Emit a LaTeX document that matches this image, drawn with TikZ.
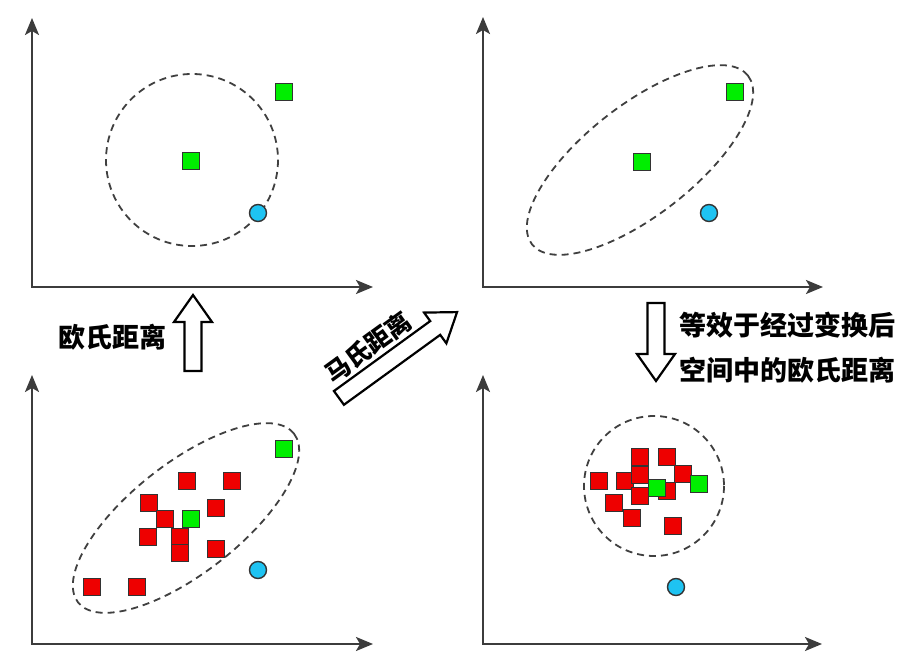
\documentclass[tikz,border=0pt]{standalone}
\usepackage{fontspec}
\newfontfamily\cjk{Noto Sans CJK SC}
\usetikzlibrary{arrows.meta}
\definecolor{cgreen}{HTML}{00EE00}
\definecolor{cred}{HTML}{EE0000}
\definecolor{cblue}{HTML}{1EC3F2}
\definecolor{cedge}{HTML}{333333}
\definecolor{caxis}{HTML}{3C3C3C}
\definecolor{cdash}{HTML}{404040}

\begin{document}
\begin{tikzpicture}[x=1pt, y=-1pt]
    \useasboundingbox[fill=white] (0,0) rectangle (911,652);
    \begin{scope}[
        axis/.style={{Stealth[length=17pt, width=14pt, inset=4pt]}-{Stealth[length=17pt, width=14pt, inset=4pt]}, line width=2pt, draw=caxis},
        bound/.style={dashed, dash pattern=on 7pt off 5pt, line width=1.8pt, draw=cdash},
        gsq/.style={rectangle, draw=cedge, line width=1.4pt, fill=cgreen, minimum size=17pt, inner sep=0pt},
        rsq/.style={rectangle, draw=cedge, line width=1.4pt, fill=cred, minimum size=17pt, inner sep=0pt},
        bdot/.style={circle, draw=cedge, line width=1.4pt, fill=cblue, minimum size=17pt, inner sep=0pt},
        lbl/.style={font=\cjk\bfseries\fontsize{27}{32}\selectfont, inner sep=0pt},
        pics/barrow/.style={code={
            \draw[line width=2.2pt, draw=black, fill=white, line join=miter]
                ({-#1/2},-8.5) -- ({#1/2-27},-8.5) -- ({#1/2-27},-19) -- ({#1/2},0)
                -- ({#1/2-27},19) -- ({#1/2-27},8.5) -- ({-#1/2},8.5) -- cycle;}}
    ]
        % ================= top left: Euclidean =================
        \draw[axis] (32,18) -- (32,287) -- (373,287);
        \draw[bound] (192,160) circle [radius=86];
        \node[gsq] (tl_c) at (191,161) {};
        \node[gsq] (tl_g) at (284,92) {};
        \node[bdot] (tl_b) at (258,213) {};

        % ================= top right: Mahalanobis =================
        \draw[axis] (483,17) -- (483,287) -- (823,287);
        \draw[bound, rotate around={38:(640,160)}] (640,160) ellipse [x radius=137, y radius=55];
        \node[gsq] (tr_c) at (642,162) {};
        \node[gsq] (tr_g) at (735,92) {};
        \node[bdot] (tr_b) at (709,213) {};

        % ================= bottom left: samples =================
        \draw[axis] (32,375) -- (32,644) -- (373,644);
        \draw[bound, rotate around={38:(186,518)}] (186,518) ellipse [x radius=137, y radius=55];
        \node[rsq] (bl_r1) at (187,481) {};
        \node[rsq] (bl_r2) at (232,481) {};
        \node[rsq] (bl_r3) at (149,503) {};
        \node[rsq] (bl_r4) at (216,508) {};
        \node[rsq] (bl_r5) at (165,519) {};
        \node[rsq] (bl_r6) at (148,537) {};
        \node[rsq] (bl_r7) at (180,537) {};
        \node[rsq] (bl_r8) at (180,553) {};
        \node[rsq] (bl_r9) at (216,549) {};
        \node[rsq] (bl_r10) at (92,587) {};
        \node[rsq] (bl_r11) at (137,587) {};
        \node[gsq] (bl_c) at (191,519) {};
        \node[gsq] (bl_g) at (284,449) {};
        \node[bdot] (bl_b) at (258,570) {};

        % ================= bottom right: transformed space =================
        \draw[axis] (483,375) -- (483,644) -- (822,644);
        \draw[bound] (654,486) circle [radius=70];
        \node[rsq] (br_r1) at (640,457) {};
        \node[rsq] (br_r2) at (667,457) {};
        \node[rsq] (br_r3) at (599,481) {};
        \node[rsq] (br_r4) at (625,481) {};
        \node[rsq] (br_r5) at (640,475) {};
        \node[rsq] (br_r6) at (683,474) {};
        \node[rsq] (br_r7) at (667,491) {};
        \node[rsq] (br_r8) at (640,496) {};
        \node[rsq] (br_r9) at (614,503) {};
        \node[rsq] (br_r10) at (632,518) {};
        \node[rsq] (br_r11) at (673,526) {};
        \node[gsq] (br_c) at (657,488) {};
        \node[gsq] (br_g) at (699,484) {};
        \node[bdot] (br_b) at (676,587) {};

        % ================= block arrows and captions =================
        \pic[rotate=90] (up) at (193,333) {barrow=76};
        \node[lbl] (eu_lbl) at (112,337) {欧氏距离};
        \pic[rotate=36] (diag) at (398,355) {barrow=146};
        \node[lbl, rotate=36, font=\cjk\bfseries\fontsize{25}{30}\selectfont] (ma_lbl) at (368,347) {马氏距离};
        \pic[rotate=-90] (down) at (656,342) {barrow=78};
        \node[lbl, anchor=west] (eq_lbl1) at (679,325) {等效于经过变换后};
        \node[lbl, anchor=west] (eq_lbl2) at (679,370) {空间中的欧氏距离};
    \end{scope}
\end{tikzpicture}
\end{document}
